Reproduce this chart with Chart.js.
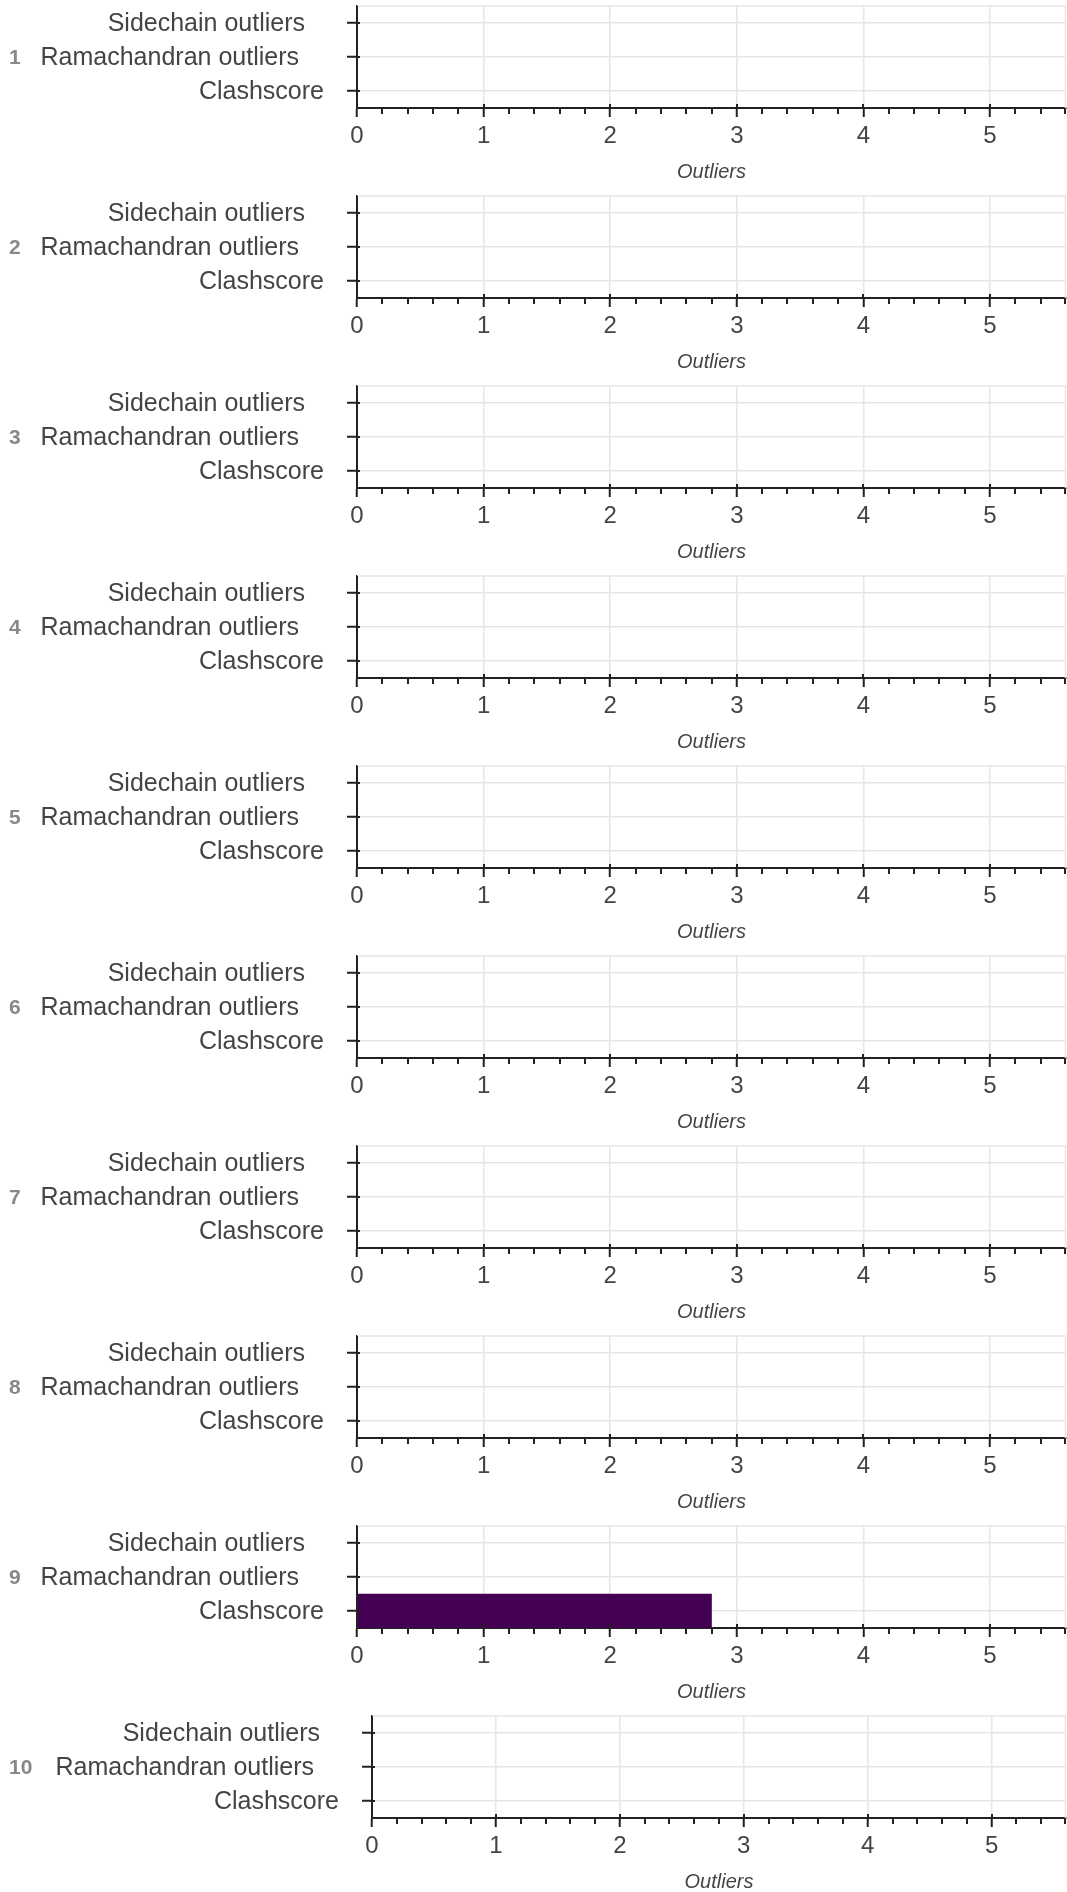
<!DOCTYPE html>
<html>
<head>
<meta charset="utf-8">
<script src="https://cdn.jsdelivr.net/npm/chart.js@4.4.1/dist/chart.umd.min.js"></script>
<style>
  html, body { margin: 0; padding: 0; background: #fff; overflow: hidden; }
  .panel { position: relative; width: 1067px; height: 190px; }
</style>
</head>
<body>
<div id="panels"></div>
<script>
// one small chart per model
const panelNumbers = [1, 2, 3, 4, 5, 6, 7, 8, 9, 10];
const categories = ["Sidechain outliers", "Ramachandran outliers", "Clashscore"];
const sidechainOutliers    = [0, 0, 0, 0, 0, 0, 0, 0, 0, 0];
const ramachandranOutliers = [0, 0, 0, 0, 0, 0, 0, 0, 0, 0];
const clashscore           = [0, 0, 0, 0, 0, 0, 0, 0, 2.8, 0];
const xMax = 5.6;
const xStep = 1;
const minorStep = 0.2;

const FONT = "'Liberation Sans', Arial, Helvetica, sans-serif";
const labelGap = [52, 58, 33]; // distance of each label's right end from the y axis

const panelDeco = {
    id: "panelDeco",
    beforeDatasetsDraw(chart) {
        const { ctx, chartArea: a } = chart;
        ctx.save();
        ctx.strokeStyle = "#e6e6e6";
        ctx.lineWidth = 1.5;
        ctx.beginPath();
        ctx.moveTo(a.left, a.top);
        ctx.lineTo(a.right - 0.5, a.top);
        ctx.lineTo(a.right - 0.5, a.bottom);
        ctx.stroke();
        ctx.restore();
    },
    afterDraw(chart, args, opts) {
        const { ctx, chartArea: a, scales: { x, y } } = chart;
        ctx.save();
        ctx.strokeStyle = "#222";
        ctx.lineWidth = 2;
        ctx.beginPath();
        // minor ticks below the x axis, little stubs above it for the major ones
        for (let i = 0; i * minorStep <= xMax + 1e-9; i++) {
            const v = i * minorStep;
            const px = Math.min(Math.round(x.getPixelForValue(v)), a.right - 1);
            if (i % Math.round(xStep / minorStep) === 0) {
                ctx.moveTo(px, a.bottom - 4);
                ctx.lineTo(px, a.bottom);
            } else {
                ctx.moveTo(px, a.bottom);
                ctx.lineTo(px, a.bottom + 6);
            }
        }
        // y ticks poke a bit into the plot
        categories.forEach((c, i) => {
            const py = Math.round(y.getPixelForTick(i));
            ctx.moveTo(a.left, py);
            ctx.lineTo(a.left + 3, py);
        });
        // y axis line on top of everything
        ctx.moveTo(a.left, a.top);
        ctx.lineTo(a.left, a.bottom);
        ctx.stroke();

        // category labels
        ctx.fillStyle = "#444";
        ctx.font = "25px " + FONT;
        ctx.textAlign = "right";
        ctx.textBaseline = "middle";
        categories.forEach((c, i) => {
            ctx.fillText(c, a.left - labelGap[i], y.getPixelForTick(i) + 1);
        });

        // panel number
        ctx.fillStyle = "#888";
        ctx.font = "bold 21px " + FONT;
        ctx.textAlign = "left";
        ctx.fillText(String(opts.number), 9, y.getPixelForTick(1) + 1);
        ctx.restore();
    }
};

const holder = document.getElementById("panels");

panelNumbers.forEach((n, i) => {
    const div = document.createElement("div");
    div.className = "panel";
    const canvas = document.createElement("canvas");
    div.appendChild(canvas);
    holder.appendChild(div);

    const axisLeft = 357 + (String(n).length - 1) * 15;

    new Chart(canvas, {
        type: "bar",
        data: {
            labels: categories,
            datasets: [{
                data: [sidechainOutliers[i], ramachandranOutliers[i], clashscore[i]],
                backgroundColor: (c) => (c.raw > 0 ? "#440154" : "rgba(0,0,0,0)"),
                borderWidth: 0,
                categoryPercentage: 1,
                barPercentage: 1
            }]
        },
        options: {
            indexAxis: "y",
            responsive: true,
            maintainAspectRatio: false,
            animation: false,
            devicePixelRatio: 1,
            layout: { padding: { top: 6, right: 1, bottom: 0, left: 0 } },
            plugins: {
                legend: { display: false },
                tooltip: { enabled: false },
                panelDeco: { number: n }
            },
            scales: {
                x: {
                    type: "linear",
                    min: 0,
                    max: xMax,
                    afterFit(scale) { scale.height = 82; },
                    grid: {
                        color: "#e6e6e6",
                        lineWidth: 1.5,
                        tickColor: "#222",
                        tickWidth: 2,
                        tickLength: 9
                    },
                    border: { color: "#222", width: 2 },
                    ticks: {
                        stepSize: xStep,
                        includeBounds: false,
                        color: "#444",
                        padding: 5,
                        font: { size: 24, family: FONT }
                    },
                    title: {
                        display: true,
                        text: "Outliers",
                        color: "#444",
                        font: { size: 20, style: "italic", family: FONT },
                        padding: { top: 0, bottom: 6 }
                    }
                },
                y: {
                    type: "category",
                    offset: true,
                    afterFit(scale) { scale.width = axisLeft; },
                    grid: {
                        offset: false,
                        color: "#e6e6e6",
                        lineWidth: 1.5,
                        tickColor: "#222",
                        tickWidth: 2,
                        tickLength: 10
                    },
                    border: { color: "#222", width: 2 },
                    ticks: { display: false }
                }
            }
        },
        plugins: [panelDeco]
    });
});
</script>
</body>
</html>
